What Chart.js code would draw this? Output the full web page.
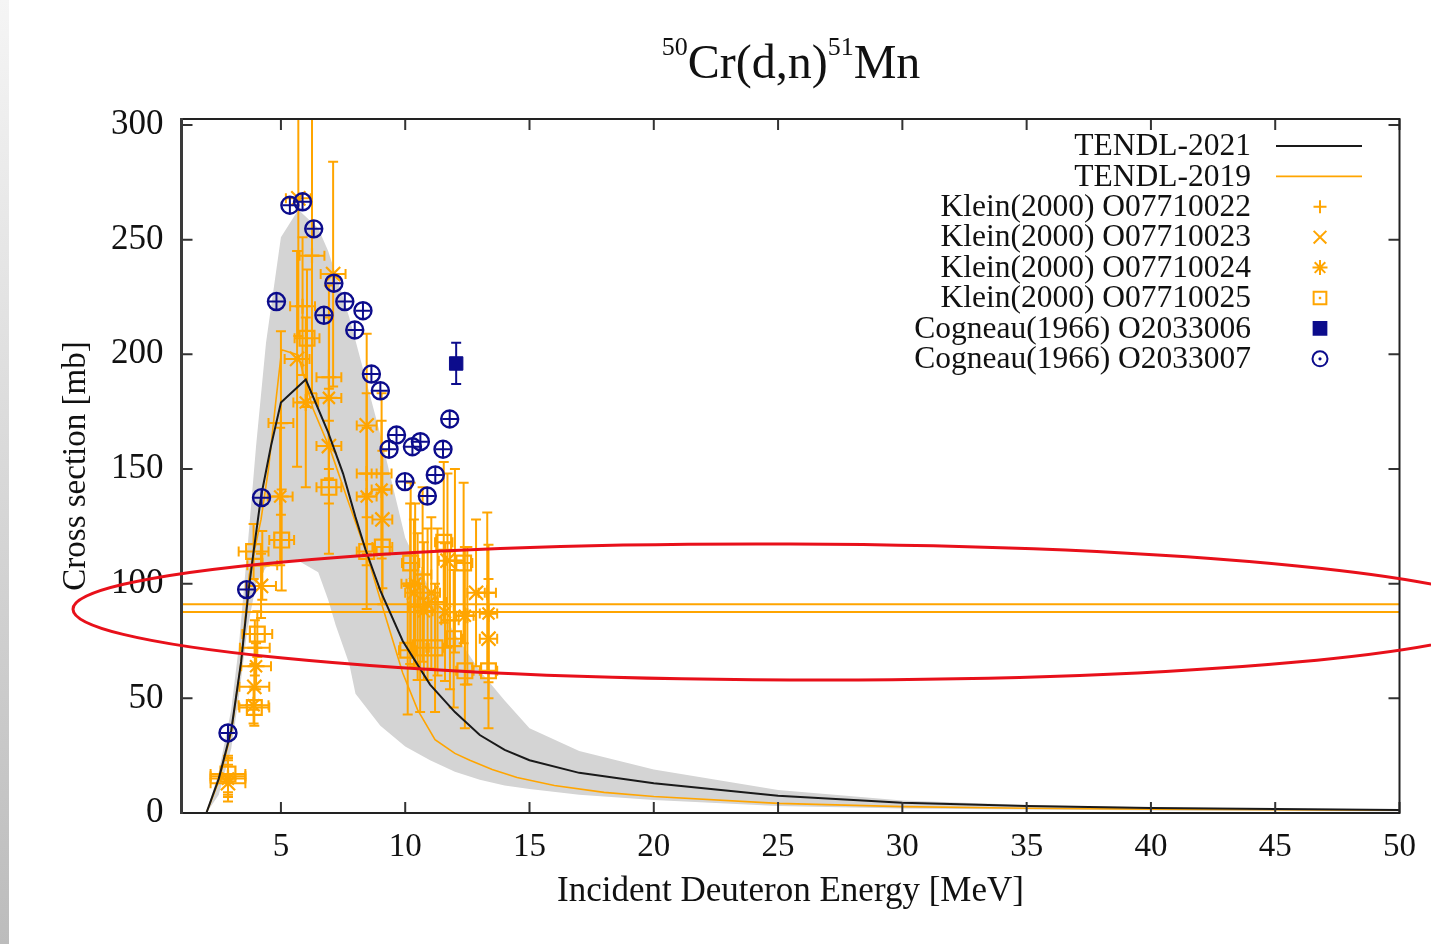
<!DOCTYPE html>
<html>
<head>
<meta charset="utf-8">
<script src="https://cdn.jsdelivr.net/npm/chart.js@4.4.1/dist/chart.umd.min.js"></script>
<style>
html, body { margin: 0; padding: 0; background: #fff; }
#caixa { position: relative; width: 1431px; height: 944px; background: #fff; }
#borda { position: absolute; left: 0; top: 0; width: 9px; height: 944px; background: linear-gradient(#f5f5f5, #bcbcbc); }
#grafico { position: absolute; left: 0; top: 0; }
</style>
</head>
<body>
<div id="caixa"><div id="borda"></div><canvas id="grafico" width="1431" height="944" style="width:1431px;height:944px;"></canvas></div>
<script>
// eixos
var xTicks = [5, 10, 15, 20, 25, 30, 35, 40, 45, 50];
var yTicks = [0, 50, 100, 150, 200, 250, 300];

// avaliacoes TENDL
var tendl2021E = [1, 2, 2.5, 3, 3.4, 3.7, 3.9, 4.2, 4.6, 5, 6, 6.9, 7.5, 8, 8.4, 9, 9.9, 11, 12, 13, 14, 15, 17, 20, 25, 30, 35, 40, 45, 50];
var tendl2021Y = [0, 0, 15, 36, 66, 97, 114, 138, 160, 179, 189, 166, 148, 129, 115, 97, 75, 56, 44, 34, 27.5, 23, 17.5, 13, 7.5, 4.5, 3, 2.2, 1.7, 1.3];

var tendl2019E = [1, 2, 2.5, 3, 3.4, 3.73, 4.2, 4.5, 4.8, 5.03, 5.69, 6.3, 7.0, 7.7, 8.45, 9.0, 9.9, 10.5, 11.2, 12, 12.6, 13.5, 14.5, 16, 18, 20, 25, 30, 35, 40, 45, 50];
var tendl2019Y = [0, 0, 14, 35, 66, 104, 128, 150, 180, 202, 199.7, 176, 158, 136, 113, 93, 61, 45, 32, 26, 23, 19, 15.5, 12, 9, 7.2, 4.2, 2.8, 2.1, 1.7, 1.4, 1.2];

// faixa de incerteza
var faixaE = [1, 2, 2.5, 3, 3.3, 3.65, 4, 4.4, 5, 5.7, 6.5, 6.9, 7.2, 7.75, 8, 9, 10, 11, 12, 13, 14, 15, 17, 20, 25, 30, 35, 40, 45, 50];
var faixaAlta = [0, 0, 18, 45, 72, 115, 160, 205, 251, 263, 255, 245, 235, 216, 206, 165, 120, 97, 78, 62, 49, 37, 27, 19, 10, 5.5, 3.5, 2.5, 2, 1.6];
var faixaBaixa = [0, 0, 8, 28, 50, 80, 100, 107, 110, 110, 105, 93, 82, 65, 52, 38, 29, 23, 18, 14.5, 12, 10.5, 8, 5.7, 3, 2, 1.5, 1.1, 0.9, 0.7];

// Klein(2000)
var klein22E = [2.87, 3.95, 4.25, 5.0, 5.87, 6.25, 6.93, 8.45, 9.05, 10.2, 10.5, 10.7, 11.3, 11.8, 12.0, 12.5, 13.3];
var klein22Y = [16, 72, 108, 170, 221, 243, 190, 148, 148, 100, 90, 104, 92, 84, 110, 86, 96];
var klein22dE = [0.7, 0.6, 0.6, 0.5, 0.5, 0.5, 0.5, 0.4, 0.4, 0.35, 0.35, 0.35, 0.35, 0.35, 0.35, 0.35, 0.35];
var klein22dY = [8, 12, 15, 40, 30, 60, 40, 35, 35, 35, 32, 38, 32, 30, 40, 30, 35];

var klein23E = [2.87, 3.93, 4.2, 5.65, 5.7, 6.93, 7.1, 8.45, 9.08, 10.35, 10.9, 11.05, 11.7, 12.85, 13.35];
var klein23Y = [13, 55, 99, 198, 268, 160, 235, 169, 128, 96, 91, 96, 110, 96, 76];
var klein23dE = [0.7, 0.6, 0.6, 0.5, 0.5, 0.5, 0.5, 0.4, 0.4, 0.35, 60, 0.35, 0.35, 0.35, 0.35];
var klein23dY = [8, 10, 14, 47, 60, 25, 49, 40, 30, 32, 33, 33, 38, 32, 26];

var klein24E = [2.87, 3.9, 4.0, 4.97, 6.0, 6.93, 8.45, 9.05, 10.4, 10.75, 11.6, 12.4, 13.35];
var klein24Y = [15, 47, 64, 138, 179, 181, 138, 141, 100, 88, 87.6, 86, 87];
var klein24dE = [0.7, 0.6, 0.6, 0.5, 0.5, 0.5, 0.4, 0.4, 0.35, 0.35, 60, 0.35, 0.35];
var klein24dY = [8, 8, 10, 30, 37, 35, 30, 30, 35, 30, 30, 30, 30];

var klein25E = [2.87, 3.93, 4.05, 3.9, 5.03, 6.05, 6.93, 8.45, 9.08, 10.1, 10.22, 10.6, 11.2, 11.55, 11.95, 12.35, 12.4, 13.35];
var klein25Y = [17, 46, 78, 114, 119, 207, 142, 114, 116, 71, 109, 72, 72, 118, 76, 109, 62, 62];
var klein25dE = [0.7, 0.6, 0.6, 0.6, 0.5, 0.5, 0.5, 0.4, 0.4, 0.35, 0.35, 0.35, 0.35, 0.35, 0.35, 0.35, 0.35, 0.35];
var klein25dY = [8, 8, 10, 12, 22, 30, 29, 25, 25, 28, 35, 28, 28, 35, 30, 35, 25, 25];

// Cogneau(1966)
var cog06E = [12.05];
var cog06Y = [196];
var cog06dE = [0];
var cog06dY = [9];

var cog07E = [2.87, 3.62, 4.22, 4.82, 5.36, 5.87, 6.32, 6.73, 7.13, 7.57, 7.97, 8.30, 8.64, 9.0, 9.35, 9.65, 9.99, 10.29, 10.61, 10.89, 11.21, 11.52, 11.79];
var cog07Y = [34.9, 97.4, 137.5, 223, 265, 266.5, 254.7, 217, 231, 223, 210.6, 219, 191.4, 184.1, 158.6, 164.8, 144.5, 159.7, 161.9, 138.2, 147.4, 158.6, 171.8];
var cog07dE = cog07E.map(function () { return 0.3; });
var cog07dY = cog07E.map(function () { return 3.6; });

var laranja = '#ffa500';
var azul = '#0c0c8c';
var fonte = 'Liberation Serif';

function linha(E, Y) {
    return E.map(function (e, i) { return { x: e, y: Y[i] }; });
}

function pontos(E, Y, dE, dY) {
    return E.map(function (e, i) {
        return { x: e, y: Y[i], xMin: e - dE[i], xMax: e + dE[i], yMin: Y[i] - dY[i], yMax: Y[i] + dY[i] };
    });
}

var barrasErro = {
    id: 'barrasErro',
    beforeDatasetDraw: function (chart, args) {
        var ds = chart.data.datasets[args.index];
        if (!ds.erros) return;
        var ctx = chart.ctx, a = chart.chartArea, sx = chart.scales.x, sy = chart.scales.y;
        var c = ds.erros.cap;
        ctx.save();
        ctx.beginPath();
        ctx.rect(a.left, a.top, a.right - a.left, a.bottom - a.top);
        ctx.clip();
        ctx.strokeStyle = ds.borderColor;
        ctx.lineWidth = ds.erros.largura;
        ctx.beginPath();
        ds.data.forEach(function (p) {
            var px = sx.getPixelForValue(p.x), py = sy.getPixelForValue(p.y);
            var x0 = sx.getPixelForValue(p.xMin), x1 = sx.getPixelForValue(p.xMax);
            var y0 = sy.getPixelForValue(p.yMin), y1 = sy.getPixelForValue(p.yMax);
            ctx.moveTo(px, y0); ctx.lineTo(px, y1);
            if (x1 - x0 > 0.5) { ctx.moveTo(x0, py); ctx.lineTo(x1, py); }
            if (c) {
                ctx.moveTo(px - c, y0); ctx.lineTo(px + c, y0);
                ctx.moveTo(px - c, y1); ctx.lineTo(px + c, y1);
                if (x1 - x0 > 0.5) {
                    ctx.moveTo(x0, py - c); ctx.lineTo(x0, py + c);
                    ctx.moveTo(x1, py - c); ctx.lineTo(x1, py + c);
                }
            }
        });
        ctx.stroke();
        ctx.restore();
    }
};

var moldura = {
    id: 'moldura',
    afterDatasetsDraw: function (chart) {
        var ctx = chart.ctx, a = chart.chartArea, sx = chart.scales.x, sy = chart.scales.y;
        ctx.save();
        ctx.strokeStyle = '#333';
        ctx.lineWidth = 2;
        ctx.beginPath();
        xTicks.forEach(function (v) {
            var px = sx.getPixelForValue(v);
            ctx.moveTo(px, a.bottom); ctx.lineTo(px, a.bottom - 11);
            ctx.moveTo(px, a.top); ctx.lineTo(px, a.top + 11);
        });
        yTicks.forEach(function (v) {
            var py = sy.getPixelForValue(v);
            ctx.moveTo(a.left, py); ctx.lineTo(a.left + 11, py);
            ctx.moveTo(a.right, py); ctx.lineTo(a.right - 11, py);
        });
        ctx.stroke();
        ctx.lineWidth = 2;
        ctx.strokeStyle = '#222';
        ctx.strokeRect(a.left, a.top, a.right - a.left, a.bottom - a.top);
        ctx.lineWidth = 3;
        ctx.strokeStyle = '#3a3a3a';
        ctx.beginPath();
        ctx.moveTo(a.left, a.top - 1); ctx.lineTo(a.left, a.bottom + 1);
        ctx.stroke();
        ctx.restore();
    }
};

var legenda = {
    id: 'legenda',
    afterDraw: function (chart) {
        var ctx = chart.ctx;
        var xTexto = 1251, xAmostra = 1320, yLinha = 146, passo = 30.4;
        ctx.save();
        ctx.textAlign = 'right';
        ctx.textBaseline = 'middle';
        var n = 0;
        chart.data.datasets.forEach(function (ds) {
            if (!ds.naLegenda) return;
            var yy = yLinha + n * passo;
            n++;
            ctx.fillStyle = '#111';
            ctx.font = '31.5px "' + fonte + '"';
            ctx.fillText(ds.label, xTexto, yy + 1);
            ctx.strokeStyle = ds.borderColor;
            if (ds.showLine) {
                ctx.lineWidth = ds.borderWidth;
                ctx.beginPath();
                ctx.moveTo(1276, yy); ctx.lineTo(1362, yy);
                ctx.stroke();
            } else if (ds.simbolo === 'circulo') {
                ctx.lineWidth = 2;
                ctx.beginPath();
                ctx.arc(xAmostra, yy, 7.5, 0, Math.PI * 2);
                ctx.stroke();
                ctx.fillStyle = ds.borderColor;
                ctx.beginPath();
                ctx.arc(xAmostra, yy, 1.6, 0, Math.PI * 2);
                ctx.fill();
            } else {
                ctx.lineWidth = 2;
                ctx.fillStyle = ds.pointBackgroundColor;
                Chart.helpers.drawPoint(ctx, { pointStyle: ds.pointStyle, radius: ds.raioLegenda, rotation: 0, borderWidth: 2 }, xAmostra, yy);
                if (ds.simbolo === 'quadrado') {
                    ctx.fillStyle = ds.borderColor;
                    ctx.fillRect(xAmostra - 1.2, yy - 1.2, 2.4, 2.4);
                }
            }
        });
        ctx.restore();
    }
};

var titulo = {
    id: 'titulo',
    afterDraw: function (chart) {
        var ctx = chart.ctx;
        var grande = '48px "' + fonte + '"', pequeno = '26px "' + fonte + '"';
        var partes = [['50', pequeno, 55], ['Cr(d,n)', grande, 78], ['51', pequeno, 55], ['Mn', grande, 78]];
        ctx.save();
        ctx.fillStyle = '#111';
        ctx.textAlign = 'left';
        ctx.textBaseline = 'alphabetic';
        var total = 0;
        partes.forEach(function (p) { ctx.font = p[1]; total += ctx.measureText(p[0]).width; });
        var x = 791 - total / 2;
        partes.forEach(function (p) {
            ctx.font = p[1];
            ctx.fillText(p[0], x, p[2]);
            x += ctx.measureText(p[0]).width;
        });
        ctx.restore();
    }
};

var elipse = {
    id: 'elipse',
    afterDraw: function (chart) {
        var ctx = chart.ctx;
        ctx.save();
        ctx.strokeStyle = '#e8101a';
        ctx.lineWidth = 3;
        ctx.beginPath();
        ctx.ellipse(790, 612, 717, 68, 0.004, 0, Math.PI * 2);
        ctx.stroke();
        ctx.restore();
    }
};

function serieKlein(rotulo, E, Y, dE, dY, estilo, raio, raioLeg, simbolo) {
    return {
        label: rotulo, data: pontos(E, Y, dE, dY), showLine: false,
        borderColor: laranja, pointBorderColor: laranja, pointBackgroundColor: 'rgba(0,0,0,0)',
        pointStyle: estilo, pointRadius: raio, pointBorderWidth: 2.2, pointHoverRadius: raio,
        raioLegenda: raioLeg, simbolo: simbolo, naLegenda: true, order: 5,
        erros: { cap: 5, largura: 2 }
    };
}

var ctx = document.getElementById("grafico").getContext("2d");
var grafico = new Chart(ctx, {
    type: 'scatter',
    data: {
        datasets: [
            {
                label: 'TENDL-2021', data: linha(tendl2021E, tendl2021Y), showLine: true,
                borderColor: '#1a1a1a', borderWidth: 2, pointRadius: 0, naLegenda: true, order: 2
            },
            {
                label: 'TENDL-2019', data: linha(tendl2019E, tendl2019Y), showLine: true,
                borderColor: laranja, borderWidth: 1.6, pointRadius: 0, naLegenda: true, order: 3
            },
            serieKlein('Klein(2000) O07710022', klein22E, klein22Y, klein22dE, klein22dY, 'cross', 7.5, 6.5, 'mais'),
            serieKlein('Klein(2000) O07710023', klein23E, klein23Y, klein23dE, klein23dY, 'crossRot', 10, 9, 'vezes'),
            serieKlein('Klein(2000) O07710024', klein24E, klein24Y, klein24dE, klein24dY, 'star', 8.5, 7.5, 'estrela'),
            serieKlein('Klein(2000) O07710025', klein25E, klein25Y, klein25dE, klein25dY, 'rect', 10.5, 9, 'quadrado'),
            {
                label: 'Cogneau(1966) O2033006', data: pontos(cog06E, cog06Y, cog06dE, cog06dY), showLine: false,
                borderColor: azul, pointBorderColor: azul, pointBackgroundColor: azul,
                pointStyle: 'rect', pointRadius: 9.5, pointBorderWidth: 1, raioLegenda: 9,
                simbolo: 'cheio', naLegenda: true, order: 1, erros: { cap: 5, largura: 2 }
            },
            {
                label: 'Cogneau(1966) O2033007', data: pontos(cog07E, cog07Y, cog07dE, cog07dY), showLine: false,
                borderColor: azul, pointBorderColor: azul, pointBackgroundColor: 'rgba(0,0,0,0)',
                pointStyle: 'circle', pointRadius: 8.5, pointBorderWidth: 2.4,
                simbolo: 'circulo', naLegenda: true, order: 0, erros: { cap: 0, largura: 2 }
            },
            {
                label: 'faixa baixa', data: linha(faixaE, faixaBaixa), showLine: true,
                borderWidth: 0, borderColor: 'rgba(0,0,0,0)', pointRadius: 0, fill: false, order: 10
            },
            {
                label: 'faixa alta', data: linha(faixaE, faixaAlta), showLine: true,
                borderWidth: 0, borderColor: 'rgba(0,0,0,0)', pointRadius: 0,
                fill: '-1', backgroundColor: '#d4d4d4', order: 9
            }
        ]
    },
    options: {
        responsive: false,
        animation: false,
        layout: { padding: { left: 0, right: 30, top: 119, bottom: 0 } },
        plugins: {
            legend: { display: false },
            title: { display: false },
            tooltip: { enabled: false },
            filler: { propagate: false }
        },
        scales: {
            x: {
                type: 'linear', min: 1, max: 50,
                afterBuildTicks: function (s) { s.ticks = xTicks.map(function (v) { return { value: v }; }); },
                afterFit: function (s) { s.height = 131; },
                grid: { display: false, drawTicks: false },
                border: { display: false },
                ticks: { font: { family: fonte, size: 33 }, color: '#111', padding: 15, maxRotation: 0, autoSkip: false },
                title: { display: true, text: 'Incident Deuteron Energy [MeV]', font: { family: fonte, size: 35 }, color: '#111', padding: { top: 0, bottom: 31 } }
            },
            y: {
                type: 'linear', min: 0, max: 302.6,
                afterBuildTicks: function (s) { s.ticks = yTicks.map(function (v) { return { value: v }; }); },
                afterFit: function (s) { s.width = 181.5; },
                grid: { display: false, drawTicks: false },
                border: { display: false },
                ticks: { font: { family: fonte, size: 35 }, color: '#111', padding: 18 },
                title: { display: true, text: 'Cross section [mb]', font: { family: fonte, size: 33 }, color: '#111', padding: { top: 57, bottom: 0 } }
            }
        }
    },
    plugins: [barrasErro, moldura, legenda, titulo, elipse]
});
</script>
</body>
</html>
